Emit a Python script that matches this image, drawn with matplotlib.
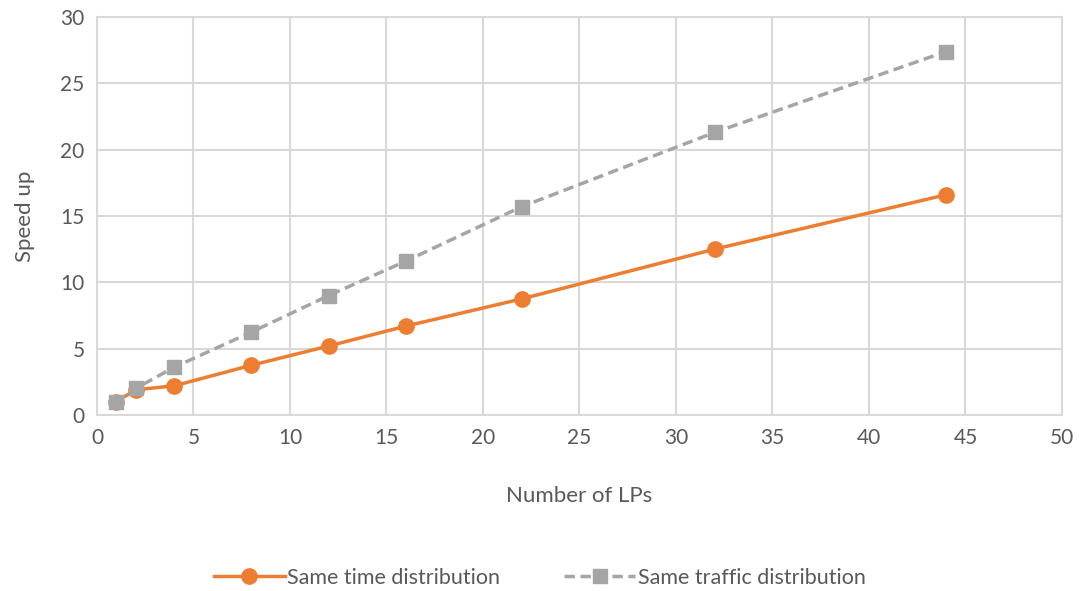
import matplotlib.pyplot as plt

# Speed up vs number of LPs
lps = [1, 2, 4, 8, 12, 16, 22, 32, 44]
same_time = [1.0, 1.9, 2.2, 3.75, 5.2, 6.7, 8.75, 12.5, 16.6]
same_traffic = [1.0, 2.0, 3.6, 6.25, 9.0, 11.6, 15.7, 21.3, 27.4]

def main():
    plt.rcParams['font.family'] = ['Lato', 'DejaVu Sans']
    txt = '#595959'
    grid = '#d9d9d9'

    fig = plt.figure(figsize=(10.79, 5.91), dpi=100)
    ax = fig.add_axes([0.0899, 0.2978, 0.8943, 0.6734])

    ax.plot(lps, same_time, color='#ed7d31', lw=2.5, marker='o', ms=11,
            label='Same time distribution', zorder=3)
    ax.plot(lps, same_traffic, color='#a5a5a5', lw=2.5, ls=(0, (3, 1.6)), marker='s', ms=10,
            label='Same traffic distribution', zorder=3)

    ax.set_xlim(0, 50)
    ax.set_ylim(0, 30)
    ax.set_xticks(range(0, 51, 5))
    ax.set_yticks(range(0, 31, 5))
    ax.grid(True, color=grid, lw=1.5)
    ax.set_axisbelow(True)
    for s in ax.spines.values():
        s.set_color(grid)
        s.set_linewidth(1.5)
    ax.tick_params(length=0, labelsize=15, colors=txt, pad=9)

    ax.set_xlabel('Number of LPs', fontsize=16, color=txt, labelpad=28)
    ax.set_ylabel('Speed up', fontsize=16, color=txt, labelpad=18)

    fig.legend(loc='center', bbox_to_anchor=(0.5, 0.022), ncol=2, frameon=False,
               fontsize=15.5, labelcolor=txt, handlelength=3.3, handletextpad=0.1,
               columnspacing=3)

    fig.savefig('out.png', dpi=100)

if __name__ == "__main__":
    main()
